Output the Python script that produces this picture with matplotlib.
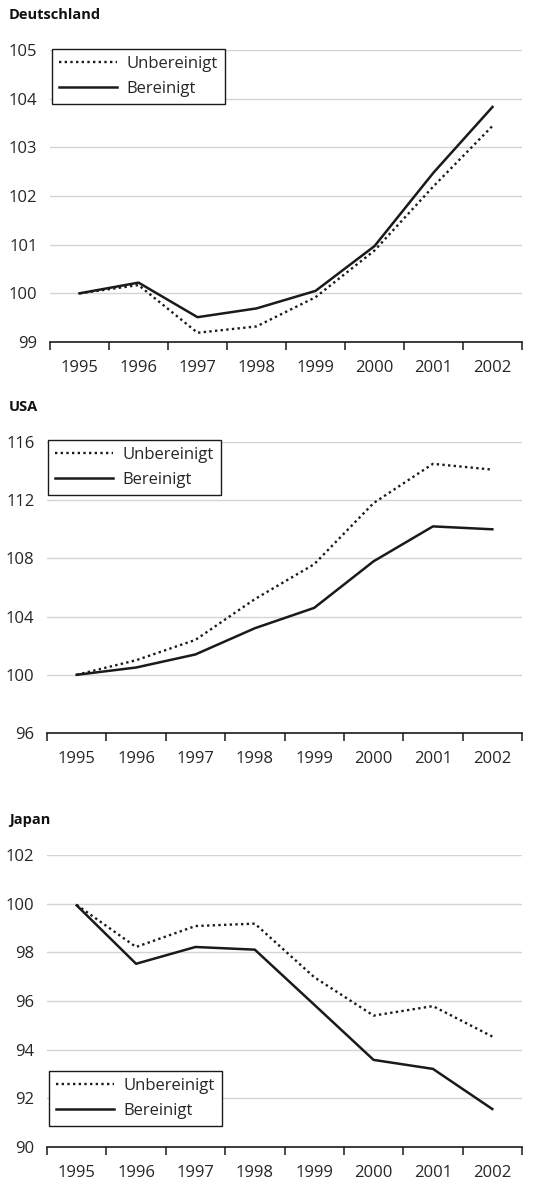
import matplotlib

matplotlib.use("Agg")
import matplotlib.pyplot as plt
from matplotlib.ticker import FixedLocator, NullFormatter

plt.rcParams["font.family"] = ["Open Sans", "DejaVu Sans"]

YEARS = ["1995", "1996", "1997", "1998", "1999", "2000", "2001", "2002"]

DE_UNBEREINIGT = [100.0, 100.17, 99.19, 99.32, 99.92, 100.88, 102.2, 103.44]
DE_BEREINIGT = [100.0, 100.22, 99.51, 99.69, 100.05, 100.97, 102.48, 103.83]

US_UNBEREINIGT = [100.0, 101.0, 102.4, 105.2, 107.6, 111.8, 114.5, 114.1]
US_BEREINIGT = [100.0, 100.5, 101.4, 103.2, 104.6, 107.8, 110.2, 110.0]

JP_UNBEREINIGT = [99.95, 98.22, 99.08, 99.18, 96.98, 95.4, 95.79, 94.54]
JP_BEREINIGT = [99.93, 97.53, 98.22, 98.11, 95.85, 93.58, 93.21, 91.56]

W, H = 533, 1187
TEXT = "#262626"
GRID = "#d4d4d4"

# (title, unbereinigt, bereinigt, yticks, axes box in px (left, top, right, bottom), legend spec)
PANELS = [
    ("Deutschland", DE_UNBEREINIGT, DE_BEREINIGT, [99, 100, 101, 102, 103, 104, 105],
     (50, 50, 522, 342), ("upper left", (0.004, 1.003))),
    ("USA", US_UNBEREINIGT, US_BEREINIGT, [96, 100, 104, 108, 112, 116],
     (47, 442, 522, 733), ("upper left", (0.002, 1.007))),
    ("Japan", JP_UNBEREINIGT, JP_BEREINIGT, [90, 92, 94, 96, 98, 100, 102],
     (47, 855, 522, 1147), ("lower left", (0.004, 0.072))),
]

fig = plt.figure(figsize=(W / 100, H / 100), dpi=100)

for title, unb, ber, yticks, (l, t, r, b), (loc, anchor) in PANELS:
    ax = fig.add_axes([l / W, 1 - b / H, (r - l) / W, (b - t) / H])
    xs = list(range(len(YEARS)))
    ax.plot(xs, unb, color="#1a1a1a", lw=1.7, linestyle=(0, (1, 1.4)),
            label="Unbereinigt", zorder=3)
    ax.plot(xs, ber, color="#1a1a1a", lw=1.8, label="Bereinigt", zorder=4)

    ax.set_xlim(-0.5, len(YEARS) - 0.5)
    ax.set_ylim(yticks[0], yticks[-1])
    ax.set_yticks(yticks)
    ax.set_yticklabels([str(v) for v in yticks])
    ax.tick_params(axis="y", length=0, pad=9, labelsize=12, labelcolor=TEXT)

    # bin-edge ticks, labels centred in the bins
    ax.xaxis.set_major_locator(FixedLocator([i - 0.5 for i in range(len(YEARS) + 1)]))
    ax.xaxis.set_major_formatter(NullFormatter())
    ax.xaxis.set_minor_locator(FixedLocator(xs))
    ax.set_xticklabels(YEARS, minor=True)
    ax.tick_params(axis="x", which="major", direction="out", length=6, width=1.1,
                   color="#1a1a1a")
    ax.tick_params(axis="x", which="minor", length=0, pad=13, labelsize=12,
                   labelcolor=TEXT)

    for s in ("top", "right", "left"):
        ax.spines[s].set_visible(False)
    ax.spines["bottom"].set_color("#1a1a1a")
    ax.spines["bottom"].set_linewidth(1.2)

    for v in yticks[1:]:
        ax.axhline(v, color=GRID, lw=1.0, zorder=1)

    leg = ax.legend(loc=loc, bbox_to_anchor=anchor, borderaxespad=0,
                    fontsize=12, frameon=True, fancybox=False, framealpha=1,
                    edgecolor="#1a1a1a", handlelength=3.5, handletextpad=0.55,
                    labelspacing=0.55, borderpad=0.42, labelcolor=TEXT)
    leg.get_frame().set_linewidth(1.0)

    fig.text(9 / W, 1 - (t - 35) / H, title, fontsize=10.5, fontweight="bold",
             color="#111111", ha="left", va="center")

fig.savefig("out.png", dpi=100)
